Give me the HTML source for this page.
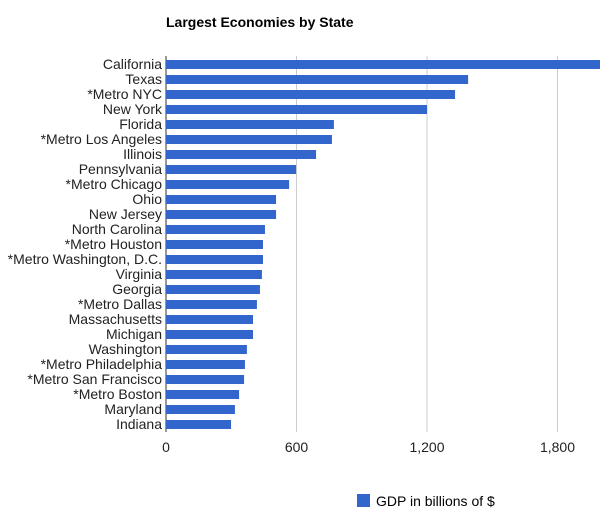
<!DOCTYPE html>
<html><head><meta charset="utf-8"><style>
body{margin:0;background:#fff;font-family:"Liberation Sans",Arial,sans-serif;}
svg text{font-family:"Liberation Sans",Arial,sans-serif;}
</style></head><body>
<svg id="chart" width="608" height="518" xmlns="http://www.w3.org/2000/svg">
<text x="166" y="27" font-size="14" font-weight="bold">Largest Economies by State</text>
<g id="grid"></g><g id="bars"></g><g id="labels"></g><g id="ticks"></g>
<g>
<rect x="357" y="494" width="13" height="13" fill="#3366cc"/>
<text x="376" y="506" font-size="14">GDP in billions of $</text>
</g>
</svg>
<script>
const categories=["California","Texas","*Metro NYC","New York","Florida","*Metro Los Angeles","Illinois","Pennsylvania","*Metro Chicago","Ohio","New Jersey","North Carolina","*Metro Houston","*Metro Washington, D.C.","Virginia","Georgia","*Metro Dallas","Massachusetts","Michigan","Washington","*Metro Philadelphia","*Metro San Francisco","*Metro Boston","Maryland","Indiana"];
const values=[2000,1389,1329,1200,772,763,690,598,566,506,506,455,446,446,441,432,418,400,400,372,363,359,336,317,299];
const tickValues=[0,600,1200,1800];
const tickLabels=["0","600","1,200","1,800"];
const NS="http://www.w3.org/2000/svg";
const x0=166,xScale=130.5/600,top0=64,step=15,bh=9,clipX=600;
const xPos=v=>x0+v*xScale;
const yPos=i=>top0+i*step;
function mk(t,a,p){const e=document.createElementNS(NS,t);for(const k in a)e.setAttribute(k,a[k]);p.appendChild(e);return e;}
const grid=document.getElementById('grid'),bars=document.getElementById('bars'),labels=document.getElementById('labels'),ticks=document.getElementById('ticks');
tickValues.forEach((v,i)=>{
 const x=xPos(v);
 if(v>0){const l=mk('line',{x1:x,x2:x,y1:56,y2:432,stroke:'#cccccc','stroke-width':1},grid);
 
 }
 const t=mk('text',{x:x,y:452,'font-size':14,'text-anchor':'middle',fill:'#222'},ticks);
 t.textContent=tickLabels[i];
 
 
});
mk('line',{x1:x0,x2:x0,y1:56,y2:432,stroke:'#333','stroke-width':1},grid);
categories.forEach((c,i)=>{
 const y=yPos(i);
 const w=Math.min(xPos(values[i]),clipX)-x0;
 const r=mk('rect',{x:x0,y:y-bh/2+0.5,width:w,height:bh,fill:'#3366cc'},bars);
 
 
 const t=mk('text',{x:162,y:y+5,'font-size':14,'text-anchor':'end',fill:'#222'},labels);
 t.textContent=c;
 
 
});
</script>
</body></html>
